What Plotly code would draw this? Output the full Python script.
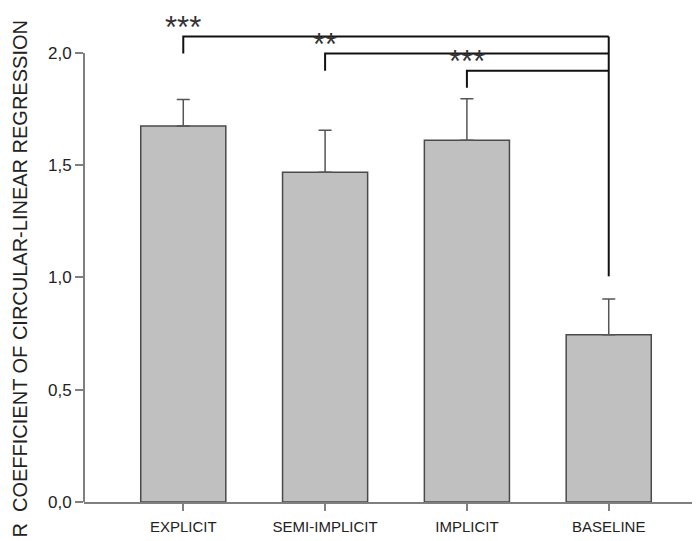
import plotly.graph_objects as go

categories = ["EXPLICIT", "SEMI-IMPLICIT", "IMPLICIT", "BASELINE"]
means = [1.675, 1.469, 1.611, 0.745]
errors = [0.117, 0.187, 0.185, 0.159]
ytick_vals = [0.0, 0.5, 1.0, 1.5, 2.0]
ytick_text = ["0,0", "0,5", "1,0", "1,5", "2,0"]
compare_from = ["EXPLICIT", "SEMI-IMPLICIT", "IMPLICIT"]
compare_to = "BASELINE"
compare_labels = ["***", "**", "***"]
y_title = "R  COEFFICIENT OF CIRCULAR-LINEAR REGRESSION"

fig = go.Figure()
fig.add_trace(go.Bar(
    x=categories, y=means, width=0.6,
    marker=dict(color="#c0c0c0", line=dict(color="#4a4a4a", width=1.5)),
    error_y=dict(type="data", array=errors, arrayminus=[0] * len(errors), symmetric=False,
                 color="#555555", thickness=1.5, width=6.5),
    showlegend=False,
))

top_level = 2.073
step = 0.076
drop = 0.076
right_bottom = 1.005
for k, (src, lab) in enumerate(zip(compare_from, compare_labels)):
    lvl = top_level - k * step
    fig.add_trace(go.Scatter(
        x=[src, src, compare_to], y=[lvl - drop, lvl, lvl], mode="lines",
        line=dict(color="#111111", width=2), showlegend=False, hoverinfo="skip"))
    fig.add_annotation(x=src, y=lvl, text=lab, showarrow=False, xanchor="center",
                       yanchor="bottom", yshift=-10,
                       font=dict(family="Liberation Sans, Arial", size=31, color="#333333"))
fig.add_trace(go.Scatter(
    x=[compare_to, compare_to], y=[top_level, right_bottom], mode="lines",
    line=dict(color="#111111", width=2), showlegend=False, hoverinfo="skip"))

fig.add_shape(type="line", xref="paper", yref="y", x0=0, x1=0, y0=0, y1=2.0,
              line=dict(color="#808080", width=2))

fig.add_annotation(xref="paper", yref="paper", x=-0.1026, y=-0.075, text=y_title,
                   textangle=-90, showarrow=False, xanchor="center", yanchor="bottom",
                   font=dict(family="Liberation Sans, Arial", size=20, color="#222222"))

fig.update_layout(
    width=700, height=541,
    margin=dict(l=76, r=0, t=0, b=47),
    plot_bgcolor="white", paper_bgcolor="white",
    bargap=0.4,
    font=dict(family="Liberation Sans, Arial", color="#222222"),
    xaxis=dict(range=[-0.7, 3.7], showline=True, linecolor="#808080", linewidth=2,
               ticks="outside", ticklen=7, tickcolor="#808080", tickwidth=1.5,
               tickfont=dict(size=15, color="#222222"), ticklabelstandoff=3,
               showgrid=False, zeroline=False),
    yaxis=dict(range=[0, 2.2], showline=False, tickvals=ytick_vals, ticktext=ytick_text,
               ticks="outside", ticklen=8, tickcolor="#808080", tickwidth=1.5,
               tickfont=dict(size=17, color="#222222"), showgrid=False, zeroline=False),
)
fig.write_html("out.html")
